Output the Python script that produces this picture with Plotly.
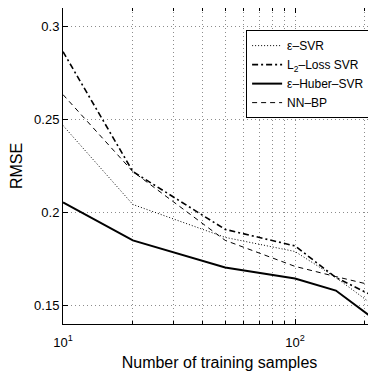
import plotly.graph_objects as go

samples = [10, 20, 50, 100, 150, 250]
eps_svr = [0.2468, 0.2043, 0.1866, 0.1790, 0.1650, 0.1446]
l2_svr = [0.2865, 0.2220, 0.1909, 0.1820, 0.1650, 0.1513]
huber_svr = [0.2054, 0.1850, 0.1704, 0.1645, 0.1580, 0.1374]
nn_bp = [0.2634, 0.2220, 0.1850, 0.1710, 0.1655, 0.1589]

x_major = [10, 100]
x_major_text = ["10<sup>1</sup>", "10<sup>2</sup>"]
x_minor = [20, 30, 40, 50, 60, 70, 80, 90, 200]
y_ticks = [0.15, 0.2, 0.25, 0.3]
y_text = ["0.15", "0.2", "0.25", "0.3"]

FONT = "Liberation Sans, Arial, Helvetica, sans-serif"

fig = go.Figure()
fig.add_trace(go.Scatter(x=samples, y=eps_svr, mode="lines", name="ε–SVR",
                         line=dict(color="black", width=1, dash="1px,2px")))
fig.add_trace(go.Scatter(x=samples, y=l2_svr, mode="lines", name="L<sub>2</sub>–Loss SVR",
                         line=dict(color="black", width=1.6, dash="6px,3px,2px,3px")))
fig.add_trace(go.Scatter(x=samples, y=huber_svr, mode="lines", name="ε–Huber–SVR",
                         line=dict(color="black", width=2)))
fig.add_trace(go.Scatter(x=samples, y=nn_bp, mode="lines", name="NN–BP",
                         line=dict(color="black", width=1, dash="5px,4px")))

grid_color = "#8c8c8c"
# the page body adds an 8px margin, so the figure is 8px smaller and shifted
fig.update_layout(
    width=368, height=363,
    margin=dict(l=55, r=0, t=0, b=47, autoexpand=False),
    paper_bgcolor="white", plot_bgcolor="white",
    font=dict(family=FONT, size=13, color="black"),
    showlegend=True,
    legend=dict(x=0.585, y=0.93, xanchor="left", yanchor="top",
                bgcolor="white", bordercolor="black", borderwidth=1,
                font=dict(family=FONT, size=12), itemwidth=30,
                tracegroupgap=0),
    xaxis=dict(type="log", range=[1, 2.349], automargin=False,
               tickvals=x_major, ticktext=x_major_text, ticklabelstandoff=6,
               ticks="inside", ticklen=5, tickcolor="black",
               showline=True, linecolor="black", linewidth=1, mirror="ticks",
               showgrid=True, gridcolor=grid_color, griddash="1px,3px", gridwidth=1,
               minor=dict(tickvals=x_minor, ticks="inside", ticklen=3, tickcolor="black",
                          showgrid=True, gridcolor=grid_color, griddash="1px,3px", gridwidth=1),
               zeroline=False,
               title=dict(text="Number of training samples")),
    yaxis=dict(range=[0.14, 0.31], automargin=False,
               tickvals=y_ticks, ticktext=y_text,
               ticks="inside", ticklen=5, tickcolor="black",
               showline=True, linecolor="black", linewidth=1,
               showgrid=True, gridcolor=grid_color, griddash="1px,3px", gridwidth=1,
               zeroline=False,
               title=dict(text="RMSE")),
)

fig.write_html("out.html")
